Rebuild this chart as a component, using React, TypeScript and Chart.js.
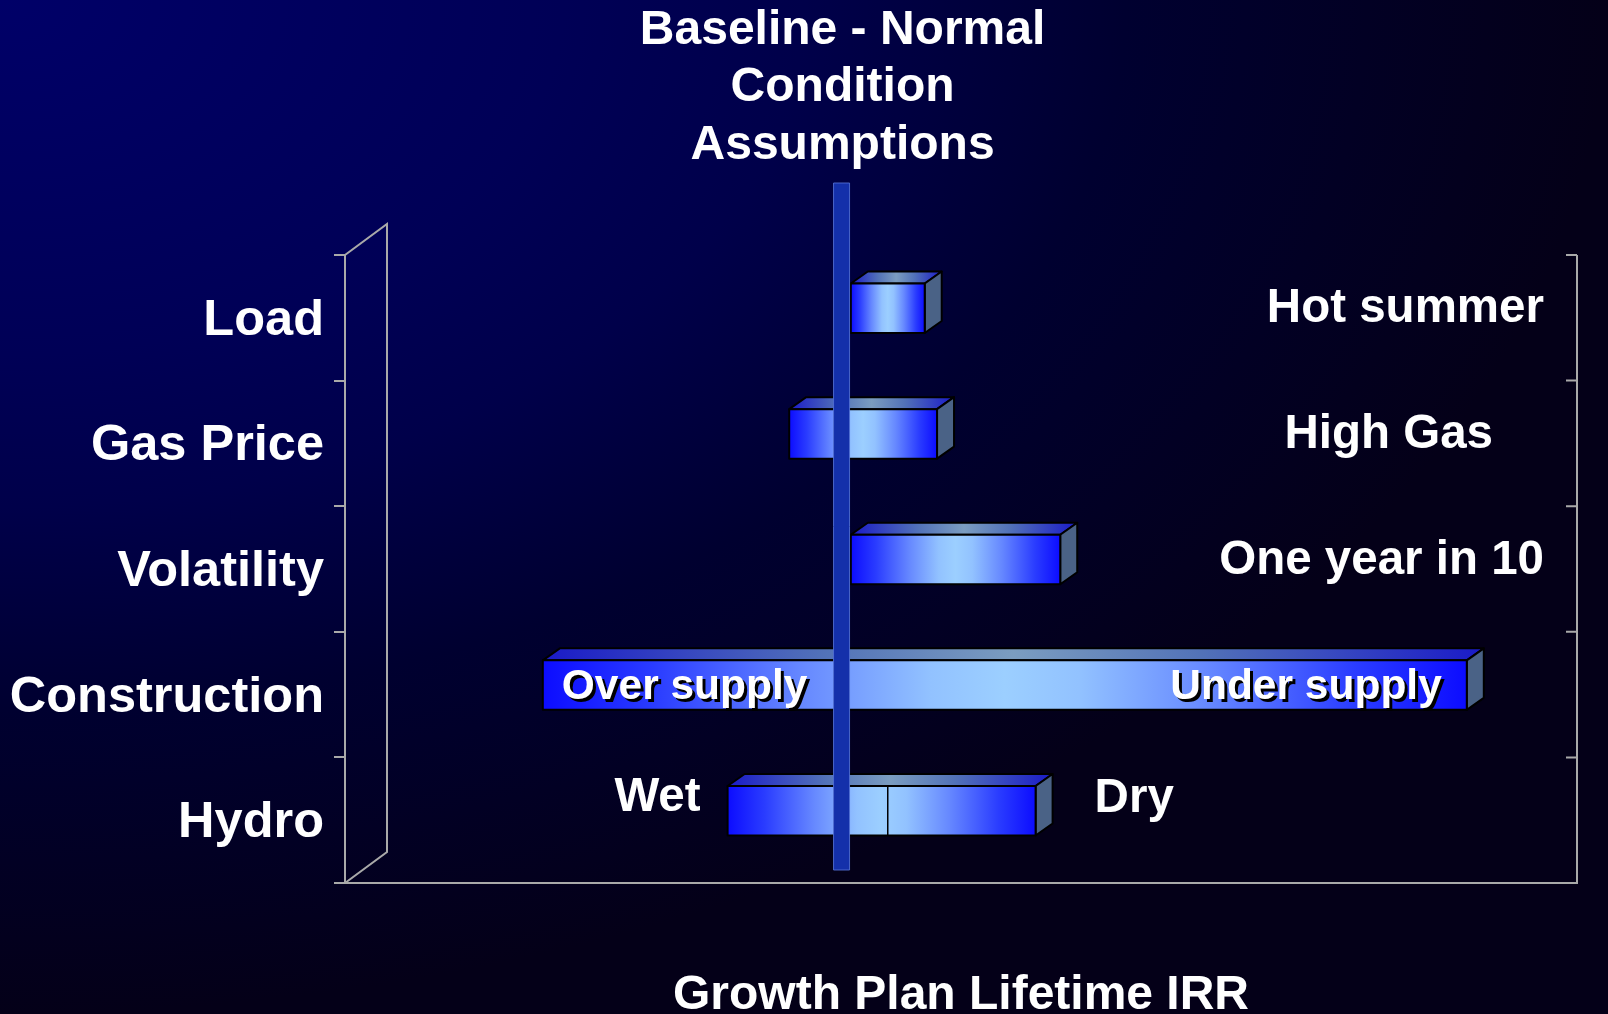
import React, { useEffect, useRef } from "react";
import { Chart, registerables } from "chart.js";

Chart.register(...registerables);

// ---------- data ----------
const FACTORS = ["Load", "Gas Price", "Volatility", "Construction", "Hydro"];
const RANGE_LOW = [8.0, 7.0, 8.0, 3.0, 6.0];
const RANGE_HIGH = [9.2, 9.4, 11.4, 18.0, 11.0];
const SPLIT_AT: (number | null)[] = [null, null, null, null, 8.6];
const BASELINE_IRR = 7.85;
const IRR_MIN = 0;
const IRR_MAX = 20;
const RIGHT_NOTES = ["Hot summer", "High Gas", "One year in 10", "", ""];
const LOW_NOTES = ["", "", "", "Over supply", "Wet"];
const HIGH_NOTES = ["", "", "", "Under supply", "Dry"];
const TITLE_LINES = ["Baseline - Normal", "Condition", "Assumptions"];
const X_TITLE = "Growth Plan Lifetime IRR";

// ---------- layout / style ----------
const FONT = "'Liberation Sans', Arial, Helvetica, sans-serif";
const GRAY = "#a9a9a9";
const BAR_DX = 13; // bar front plane offset (3D depth centering)
const BAR_DY = -9.5;
const BOX_DX = 17; // bar depth
const BOX_DY = -12;
const WALL_DX = 42; // wall depth
const WALL_DY = 31;
const RIGHT_NOTE_INSET = [33, 84, 33, 0, 0];
const INSIDE_NOTES = [false, false, false, true, false];

const FRONT_STOPS: [number, string][] = [
  [0, "#0c0cff"],
  [0.12, "#2a3cff"],
  [0.28, "#6688ff"],
  [0.42, "#92c2ff"],
  [0.5, "#9ccfff"],
  [0.58, "#92c2ff"],
  [0.72, "#6688ff"],
  [0.88, "#2a3cff"],
  [1, "#0c0cff"],
];
const TOP_STOPS: [number, string][] = [
  [0, "#1a1ac8"],
  [0.3, "#5272b8"],
  [0.5, "#7b9dc0"],
  [0.7, "#5272b8"],
  [1, "#1a1ac8"],
];

function grad(ctx: CanvasRenderingContext2D, a: number, b: number, stops: [number, string][]) {
  const g = ctx.createLinearGradient(a, 0, b, 0);
  stops.forEach(([o, c]) => g.addColorStop(o, c));
  return g;
}

const tornadoPlugin = {
  id: "tornado3d",
  beforeDraw(chart: any) {
    const { ctx, width, height } = chart;
    ctx.save();
    ctx.scale(width, height);
    const g = ctx.createRadialGradient(0, 0, 0, 0, 0, 1);
    g.addColorStop(0, "#000068");
    g.addColorStop(0.35, "#000056");
    g.addColorStop(0.5, "#00004a");
    g.addColorStop(0.7, "#000030");
    g.addColorStop(1, "#040018");
    ctx.fillStyle = g;
    ctx.fillRect(0, 0, 1, 1);
    ctx.restore();
  },
  beforeDatasetsDraw(chart: any) {
    const { ctx, chartArea: a } = chart;
    const yScale = chart.scales.y;
    ctx.save();
    ctx.strokeStyle = GRAY;
    ctx.lineWidth = 2;
    ctx.beginPath();
    ctx.moveTo(a.left, a.top);
    ctx.lineTo(a.left + WALL_DX, a.top - WALL_DY);
    ctx.lineTo(a.left + WALL_DX, a.bottom - WALL_DY);
    ctx.lineTo(a.left, a.bottom);
    ctx.stroke();
    ctx.beginPath();
    ctx.moveTo(a.right, a.top);
    ctx.lineTo(a.right, a.bottom);
    for (let i = 0; i <= FACTORS.length; i++) {
      const py = yScale.getPixelForValue(i - 0.5);
      ctx.moveTo(a.right - 11, py);
      ctx.lineTo(a.right, py);
    }
    ctx.stroke();
    ctx.restore();
  },
  afterDatasetsDraw(chart: any) {
    const { ctx, chartArea: a } = chart;
    const xScale = chart.scales.x;
    const meta = chart.getDatasetMeta(0);
    ctx.save();
    ctx.lineJoin = "round";
    const faces: any[] = [];
    meta.data.forEach((bar: any, i: number) => {
      const { x, y, base, height } = bar.getProps(["x", "y", "base", "height"], true);
      const x0 = Math.min(x, base) + BAR_DX;
      const x1 = Math.max(x, base) + BAR_DX;
      const y0 = y - height / 2 + BAR_DY;
      const y1 = y + height / 2 + BAR_DY;
      faces.push({ x0, x1, y0, y1 });
      // top face
      ctx.beginPath();
      ctx.moveTo(x0, y0);
      ctx.lineTo(x0 + BOX_DX, y0 + BOX_DY);
      ctx.lineTo(x1 + BOX_DX, y0 + BOX_DY);
      ctx.lineTo(x1, y0);
      ctx.closePath();
      ctx.fillStyle = grad(ctx, x0, x1 + BOX_DX, TOP_STOPS);
      ctx.fill();
      ctx.strokeStyle = "#000";
      ctx.lineWidth = 2;
      ctx.stroke();
      // side face
      ctx.beginPath();
      ctx.moveTo(x1, y0);
      ctx.lineTo(x1 + BOX_DX, y0 + BOX_DY);
      ctx.lineTo(x1 + BOX_DX, y1 + BOX_DY);
      ctx.lineTo(x1, y1);
      ctx.closePath();
      ctx.fillStyle = "#4a6286";
      ctx.fill();
      ctx.stroke();
      // front face
      ctx.fillStyle = grad(ctx, x0, x1, FRONT_STOPS);
      ctx.fillRect(x0, y0, x1 - x0, y1 - y0);
      ctx.strokeRect(x0, y0, x1 - x0, y1 - y0);
      const s = SPLIT_AT[i];
      if (s !== null) {
        const sx = xScale.getPixelForValue(s) + BAR_DX;
        ctx.lineWidth = 1.5;
        ctx.beginPath();
        ctx.moveTo(sx, y0);
        ctx.lineTo(sx, y1);
        ctx.stroke();
        ctx.lineWidth = 2;
      }
    });

    // baseline bar
    const bx = xScale.getPixelForValue(BASELINE_IRR) + BAR_DX;
    const bTop = a.top - 72;
    const bBot = a.bottom - 13;
    ctx.fillStyle = "#1430aa";
    ctx.fillRect(bx - 8, bTop, 16, bBot - bTop);
    ctx.strokeStyle = "rgba(80,110,210,0.9)";
    ctx.lineWidth = 1;
    ctx.strokeRect(bx - 8, bTop, 16, bBot - bTop);

    // title lines centred on the baseline
    ctx.fillStyle = "#fff";
    ctx.textAlign = "center";
    ctx.textBaseline = "middle";
    ctx.font = `bold 48px ${FONT}`;
    TITLE_LINES.forEach((t, k) => {
      ctx.fillText(t, bx + 1, a.top - 224.5 + k * 57.5);
    });

    // notes
    faces.forEach((f, i) => {
      const cy = (f.y0 + f.y1) / 2;
      if (RIGHT_NOTES[i]) {
        ctx.save();
        ctx.font = `bold 47.5px ${FONT}`;
        ctx.fillStyle = "#fff";
        ctx.textAlign = "right";
        ctx.textBaseline = "middle";
        ctx.fillText(RIGHT_NOTES[i], a.right - RIGHT_NOTE_INSET[i], cy + 1);
        ctx.restore();
      }
      if (INSIDE_NOTES[i]) {
        ctx.save();
        ctx.font = `bold 42.5px ${FONT}`;
        ctx.fillStyle = "#fff";
        ctx.textBaseline = "middle";
        ctx.shadowColor = "#000";
        ctx.shadowOffsetX = 3;
        ctx.shadowOffsetY = 3;
        ctx.shadowBlur = 0;
        if (LOW_NOTES[i]) {
          ctx.textAlign = "left";
          ctx.fillText(LOW_NOTES[i], f.x0 + 19, cy + 2.5);
        }
        if (HIGH_NOTES[i]) {
          ctx.textAlign = "right";
          ctx.fillText(HIGH_NOTES[i], f.x1 - 25, cy + 2.5);
        }
        ctx.restore();
      } else {
        ctx.save();
        ctx.font = `bold 47.5px ${FONT}`;
        ctx.fillStyle = "#fff";
        ctx.textBaseline = "middle";
        if (LOW_NOTES[i]) {
          ctx.textAlign = "right";
          ctx.fillText(LOW_NOTES[i], f.x0 - 27, cy - 12.5);
        }
        if (HIGH_NOTES[i]) {
          ctx.textAlign = "left";
          ctx.fillText(HIGH_NOTES[i], f.x1 + BOX_DX + 42, cy - 12);
        }
        ctx.restore();
      }
    });
    ctx.restore();
  },
};

export default function App() {
  const ref = useRef<HTMLCanvasElement>(null);
  useEffect(() => {
    document.body.style.margin = "0";
    if (!ref.current) return;
    const chart = new Chart(ref.current, {
      type: "bar",
      data: {
        labels: FACTORS,
        datasets: [
          {
            label: "IRR range",
            data: FACTORS.map((_, i) => [RANGE_LOW[i], RANGE_HIGH[i]]) as any,
            backgroundColor: "rgba(0,0,0,0)",
            borderWidth: 0,
            barPercentage: 0.394,
            categoryPercentage: 1,
          },
        ],
      },
      options: {
        indexAxis: "y",
        responsive: false,
        animation: false,
        devicePixelRatio: 1,
        events: [],
        layout: { padding: { top: 255, right: 31, left: 0, bottom: 0 } },
        plugins: {
          legend: { display: false },
          tooltip: { enabled: false },
          title: { display: false },
        },
        scales: {
          x: {
            type: "linear",
            min: IRR_MIN,
            max: IRR_MAX,
            grid: { display: false },
            ticks: { display: false },
            border: { display: true, color: GRAY, width: 2 },
            title: {
              display: true,
              text: X_TITLE,
              color: "#fff",
              font: { family: FONT, size: 48, weight: "bold", lineHeight: 0.75 },
              padding: 0,
            },
            afterFit: (scale: any) => {
              scale.height = 131;
            },
          },
          y: {
            type: "category",
            offset: true,
            grid: {
              display: true,
              offset: true,
              drawOnChartArea: false,
              drawTicks: true,
              tickLength: 11,
              color: GRAY,
              lineWidth: 2,
            },
            border: { display: true, color: GRAY, width: 2 },
            ticks: {
              color: "#fff",
              padding: 10,
              autoSkip: false,
              labelOffset: 3,
              font: { family: FONT, size: 50.5, weight: "bold" },
            },
            afterFit: (scale: any) => {
              scale.width = 345;
            },
          },
        },
      },
      plugins: [tornadoPlugin],
    });
    return () => chart.destroy();
  }, []);
  return (
    <div style={{ width: 1608, height: 1014 }}>
      <canvas ref={ref} width={1608} height={1014} style={{ display: "block", width: 1608, height: 1014 }} />
    </div>
  );
}
